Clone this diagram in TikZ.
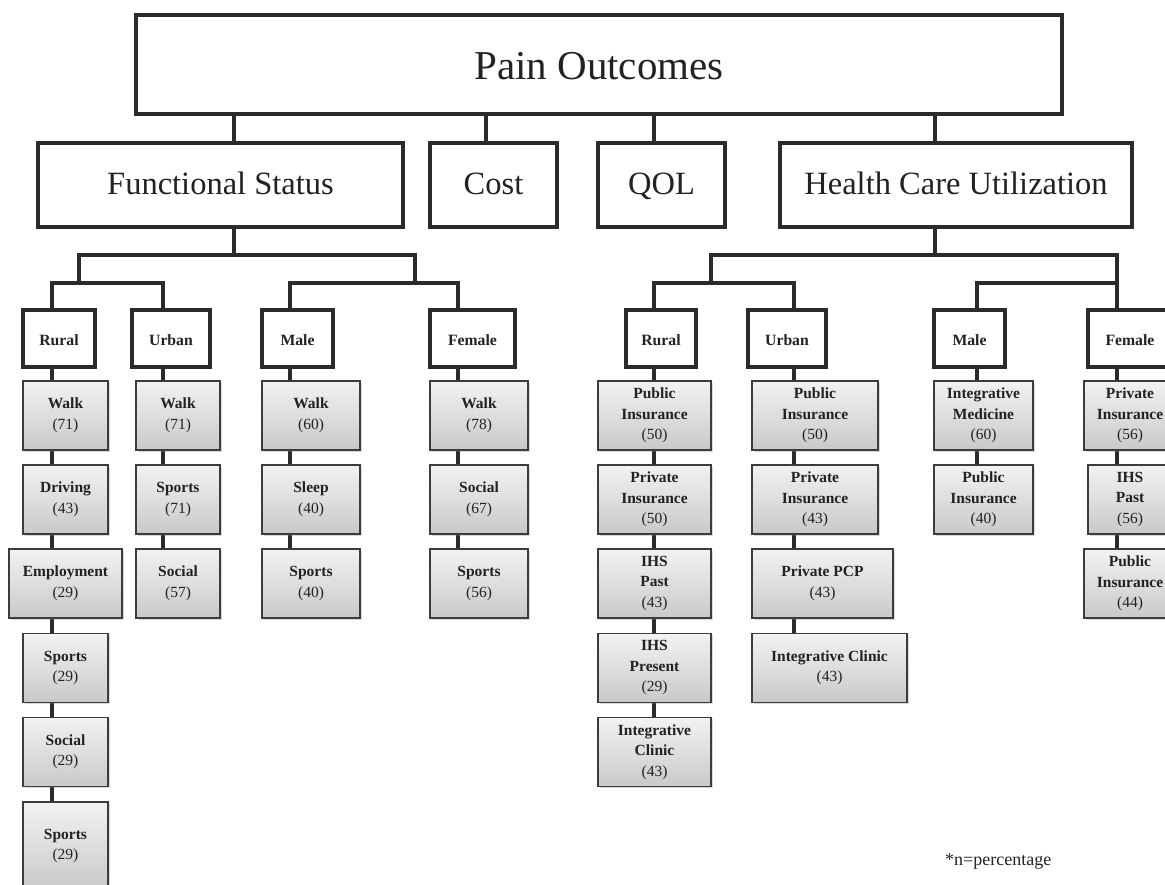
\documentclass[tikz,border=0pt]{standalone}
\usepackage{fontspec}
\setmainfont{Liberation Serif}
\usetikzlibrary{shadows,backgrounds}
\definecolor{ink}{HTML}{2B2B2B}
\definecolor{txt}{HTML}{222222}
\definecolor{gtop}{HTML}{F2F2F2}
\definecolor{gbot}{HTML}{C9C9C9}
\definecolor{gedge}{HTML}{3C3C3C}
\begin{document}
\begin{tikzpicture}[x=1pt,y=-1pt,
  conn/.style={draw=ink,line width=4pt,line cap=rect},
  bigbox/.style={draw=ink,line width=4pt,fill=white,inner sep=0pt,text=txt,minimum height=84pt,
    text height=18pt,text depth=0pt,font=\fontsize{32.5}{38}\selectfont},
  catbox/.style={draw=ink,line width=3.6pt,fill=white,inner sep=0pt,text=txt,minimum height=57pt,
    text height=13pt,text depth=0pt,font=\fontsize{15.7}{18}\selectfont\bfseries},
  leaf/.style={draw=gedge,line width=1.2pt,top color=gtop,bottom color=gbot,
    drop shadow={shadow xshift=1.5pt,shadow yshift=-1.5pt,opacity=0.3},
    inner sep=0pt,align=center,text=txt,minimum height=69pt,font=\fontsize{15.5}{20.5}\selectfont},
  note/.style={text=txt,inner sep=0pt,font=\fontsize{18}{20}\selectfont}]
\useasboundingbox (0,0) rectangle (1165,884);

% level 1 and 2
\node[bigbox,minimum width=926pt,minimum height=99pt,text height=29pt,font=\fontsize{41}{48}\selectfont] (top) at (599,64.5) {Pain Outcomes};
\node[bigbox,minimum width=365pt] (fs) at (220.5,185) {Functional Status};
\node[bigbox,minimum width=127pt] (cost) at (493.5,185) {Cost};
\node[bigbox,minimum width=127pt] (qol) at (661.5,185) {QOL};
\node[bigbox,minimum width=352pt] (hcu) at (956,185) {Health Care Utilization};

% level 3
\node[catbox,minimum width=72pt] (fr) at (59,338.5) {Rural};
\node[catbox,minimum width=78pt] (fu) at (171,338.5) {Urban};
\node[catbox,minimum width=71pt] (fm) at (297.5,338.5) {Male};
\node[catbox,minimum width=85pt] (ff) at (472.5,338.5) {Female};
\node[catbox,minimum width=70pt] (hr) at (661,338.5) {Rural};
\node[catbox,minimum width=78pt] (hu) at (787,338.5) {Urban};
\node[catbox,minimum width=71pt] (hm) at (969.5,338.5) {Male};
\node[catbox,minimum width=84pt] (hf) at (1130,338.5) {Female};

% leaves: Functional Status / Rural
\node[leaf,minimum width=85pt] (a1) at (65.5,415.5) {\textbf{Walk}\\(71)};
\node[leaf,minimum width=85pt] (a2) at (65.5,499.5) {\textbf{Driving}\\(43)};
\node[leaf,minimum width=113pt] (a3) at (65.5,583.5) {\textbf{Employment}\\(29)};
\node[leaf,minimum width=85pt] (a4) at (65.5,668) {\textbf{Sports}\\(29)};
\node[leaf,minimum width=85pt] (a5) at (65.5,752) {\textbf{Social}\\(29)};
\node[leaf,minimum width=85pt,minimum height=88pt] (a6) at (65.5,846) {\textbf{Sports}\\(29)};
% Urban
\node[leaf,minimum width=84pt] (b1) at (178,415.5) {\textbf{Walk}\\(71)};
\node[leaf,minimum width=84pt] (b2) at (178,499.5) {\textbf{Sports}\\(71)};
\node[leaf,minimum width=84pt] (b3) at (178,583.5) {\textbf{Social}\\(57)};
% Male
\node[leaf,minimum width=98pt] (c1) at (311,415.5) {\textbf{Walk}\\(60)};
\node[leaf,minimum width=98pt] (c2) at (311,499.5) {\textbf{Sleep}\\(40)};
\node[leaf,minimum width=98pt] (c3) at (311,583.5) {\textbf{Sports}\\(40)};
% Female
\node[leaf,minimum width=98pt] (d1) at (479,415.5) {\textbf{Walk}\\(78)};
\node[leaf,minimum width=98pt] (d2) at (479,499.5) {\textbf{Social}\\(67)};
\node[leaf,minimum width=98pt] (d3) at (479,583.5) {\textbf{Sports}\\(56)};
% HCU / Rural
\node[leaf,minimum width=113pt] (e1) at (654.5,415.5) {\textbf{Public}\\\textbf{Insurance}\\(50)};
\node[leaf,minimum width=113pt] (e2) at (654.5,499.5) {\textbf{Private}\\\textbf{Insurance}\\(50)};
\node[leaf,minimum width=113pt] (e3) at (654.5,583.5) {\textbf{IHS}\\\textbf{Past}\\(43)};
\node[leaf,minimum width=113pt] (e4) at (654.5,668) {\textbf{IHS}\\\textbf{Present}\\(29)};
\node[leaf,minimum width=113pt] (e5) at (654.5,752) {\textbf{Integrative}\\\textbf{Clinic}\\(43)};
% HCU / Urban
\node[leaf,minimum width=126pt] (f1) at (815,415.5) {\textbf{Public}\\\textbf{Insurance}\\(50)};
\node[leaf,minimum width=126pt] (f2) at (815,499.5) {\textbf{Private}\\\textbf{Insurance}\\(43)};
\node[leaf,minimum width=141pt] (f3) at (822.5,583.5) {\textbf{Private PCP}\\(43)};
\node[leaf,minimum width=155pt] (f4) at (829.5,668) {\textbf{Integrative Clinic}\\(43)};
% HCU / Male
\node[leaf,minimum width=99pt] (g1) at (983.5,415.5) {\textbf{Integrative}\\\textbf{Medicine}\\(60)};
\node[leaf,minimum width=99pt] (g2) at (983.5,499.5) {\textbf{Public}\\\textbf{Insurance}\\(40)};
% HCU / Female
\node[leaf,minimum width=92pt] (h1) at (1130,415.5) {\textbf{Private}\\\textbf{Insurance}\\(56)};
\node[leaf,minimum width=84pt] (h2) at (1130,499.5) {\textbf{IHS}\\\textbf{Past}\\(56)};
\node[leaf,minimum width=92pt] (h3) at (1130,583.5) {\textbf{Public}\\\textbf{Insurance}\\(44)};

\node[note,anchor=base west] (fn) at (945,865) {*n=percentage};

% connector guide coordinates
\coordinate (xfs) at (234,255);
\coordinate (xco) at (486,0);
\coordinate (xqo) at (654,0);
\coordinate (xhc) at (935,255);
\coordinate (jfl) at (79,283);
\coordinate (jfr) at (415,283);
\coordinate (jhl) at (711,283);
\coordinate (jhr) at (1117,283);
\coordinate (k1) at (52,283);
\coordinate (k2) at (163,283);
\coordinate (k3) at (290,283);
\coordinate (k4) at (458,283);
\coordinate (k5) at (654,283);
\coordinate (k6) at (794,283);
\coordinate (k7) at (977,283);
\coordinate (k8) at (1117,283);

\begin{scope}[on background layer]
  % top to level 2
  \draw[conn] (top.south -| xfs) -- (fs.north -| xfs);
  \draw[conn] (top.south -| xco) -- (cost.north -| xco);
  \draw[conn] (top.south -| xqo) -- (qol.north -| xqo);
  \draw[conn] (top.south -| xhc) -- (hcu.north -| xhc);
  % functional status bus
  \draw[conn] (fs.south -| xfs) -- (xfs);
  \draw[conn] (jfl |- xfs) -- (jfr |- xfs);
  \draw[conn] (jfl |- xfs) -- (jfl);
  \draw[conn] (jfr |- xfs) -- (jfr);
  \draw[conn] (k1) -- (k2);
  \draw[conn] (k3) -- (k4);
  \draw[conn] (k1) -- (fr.north -| k1);
  \draw[conn] (k2) -- (fu.north -| k2);
  \draw[conn] (k3) -- (fm.north -| k3);
  \draw[conn] (k4) -- (ff.north -| k4);
  % health care utilization bus
  \draw[conn] (hcu.south -| xhc) -- (xhc);
  \draw[conn] (jhl |- xhc) -- (jhr |- xhc);
  \draw[conn] (jhl |- xhc) -- (jhl);
  \draw[conn] (k5) -- (k6);
  \draw[conn] (k7) -- (k8);
  \draw[conn] (k5) -- (hr.north -| k5);
  \draw[conn] (k6) -- (hu.north -| k6);
  \draw[conn] (k7) -- (hm.north -| k7);
  \draw[conn] (jhr |- xhc) -- (hf.north -| k8);
  % columns
  \draw[conn] (fr.south -| k1) -- (a1.north -| k1);
  \draw[conn] (a1.south -| k1) -- (a2.north -| k1);
  \draw[conn] (a2.south -| k1) -- (a3.north -| k1);
  \draw[conn] (a3.south -| k1) -- (a4.north -| k1);
  \draw[conn] (a4.south -| k1) -- (a5.north -| k1);
  \draw[conn] (a5.south -| k1) -- (a6.north -| k1);
  \draw[conn] (fu.south -| k2) -- (b1.north -| k2);
  \draw[conn] (b1.south -| k2) -- (b2.north -| k2);
  \draw[conn] (b2.south -| k2) -- (b3.north -| k2);
  \draw[conn] (fm.south -| k3) -- (c1.north -| k3);
  \draw[conn] (c1.south -| k3) -- (c2.north -| k3);
  \draw[conn] (c2.south -| k3) -- (c3.north -| k3);
  \draw[conn] (ff.south -| k4) -- (d1.north -| k4);
  \draw[conn] (d1.south -| k4) -- (d2.north -| k4);
  \draw[conn] (d2.south -| k4) -- (d3.north -| k4);
  \draw[conn] (hr.south -| k5) -- (e1.north -| k5);
  \draw[conn] (e1.south -| k5) -- (e2.north -| k5);
  \draw[conn] (e2.south -| k5) -- (e3.north -| k5);
  \draw[conn] (e3.south -| k5) -- (e4.north -| k5);
  \draw[conn] (e4.south -| k5) -- (e5.north -| k5);
  \draw[conn] (hu.south -| k6) -- (f1.north -| k6);
  \draw[conn] (f1.south -| k6) -- (f2.north -| k6);
  \draw[conn] (f2.south -| k6) -- (f3.north -| k6);
  \draw[conn] (f3.south -| k6) -- (f4.north -| k6);
  \draw[conn] (hm.south -| k7) -- (g1.north -| k7);
  \draw[conn] (g1.south -| k7) -- (g2.north -| k7);
  \draw[conn] (hf.south -| k8) -- (h1.north -| k8);
  \draw[conn] (h1.south -| k8) -- (h2.north -| k8);
  \draw[conn] (h2.south -| k8) -- (h3.north -| k8);
\end{scope}
\end{tikzpicture}
\end{document}
